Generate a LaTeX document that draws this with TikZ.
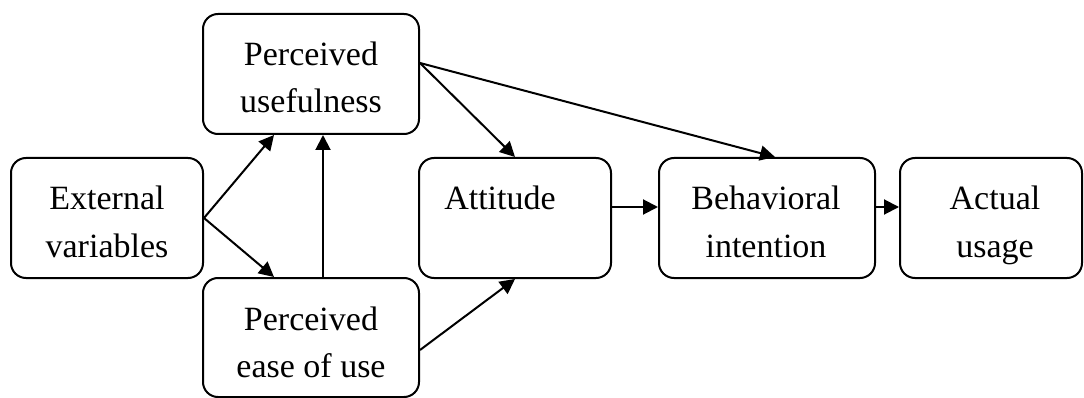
\documentclass[tikz,border=0pt]{standalone}
\usepackage{fontspec}
\setmainfont{Liberation Serif}
\usetikzlibrary{arrows.meta,calc}
\begin{document}
\begin{tikzpicture}[x=1pt,y=-1pt,
  box/.style={draw,line width=2pt,rounded corners=15pt,inner sep=0pt,align=center,
    font=\fontsize{34}{47}\selectfont},
  txt/.style={font=\fontsize{34}{47}\selectfont,inner sep=0pt},
  arr/.style={line width=2pt,-{Triangle[length=15pt,width=15pt]}}]
\useasboundingbox (0,0) rectangle (1084,398);
\node[box,minimum width=192pt,minimum height=120pt] (ext) at (107,218) {};
\node[box,minimum width=216pt,minimum height=120pt] (pu) at (311,74) {};
\node[box,minimum width=216pt,minimum height=119pt] (peou) at (311,337.5) {};
\node[box,minimum width=192pt,minimum height=120pt] (att) at (515,218) {};
\node[box,minimum width=216pt,minimum height=120pt] (bi) at (767,218) {};
\node[box,minimum width=182pt,minimum height=120pt] (au) at (991,218) {};
\node[txt,anchor=base] (extT1) at (107,210) {External};
\node[txt,anchor=base] (extT2) at (107,258) {variables};
\node[txt,anchor=base] (puT1) at (311,66) {Perceived};
\node[txt,anchor=base] (puT2) at (311,113) {usefulness};
\node[txt,anchor=base] (peouT1) at (311,330) {Perceived};
\node[txt,anchor=base] (peouT2) at (311,377) {ease of use};
\node[txt,anchor=base] (attT) at (500,210) {Attitude};
\node[txt,anchor=base] (biT1) at (766,210) {Behavioral};
\node[txt,anchor=base] (biT2) at (766,258) {intention};
\node[txt,anchor=base] (auT1) at (995,210) {Actual};
\node[txt,anchor=base] (auT2) at (995,258) {usage};
\draw[arr] (ext.east) -- ($(pu.south)+(-37,0)$);
\draw[arr] (ext.east) -- ($(peou.north)+(-37,0)$);
\draw[arr] ($(peou.north)+(12,0)$) -- ($(pu.south)+(12,0)$);
\draw[arr] ($(pu.east)+(0,-11)$) -- (att.north);
\draw[arr] ($(pu.east)+(0,-11)$) -- ($(bi.north)+(8,0)$);
\draw[arr] ($(peou.east)+(0,12.5)$) -- (att.south);
\draw[arr] ($(att.east)+(0,-11)$) -- ($(bi.west)+(0,-11)$);
\draw[arr] ($(bi.east)+(0,-11)$) -- ($(au.west)+(0,-11)$);
\end{tikzpicture}
\end{document}
